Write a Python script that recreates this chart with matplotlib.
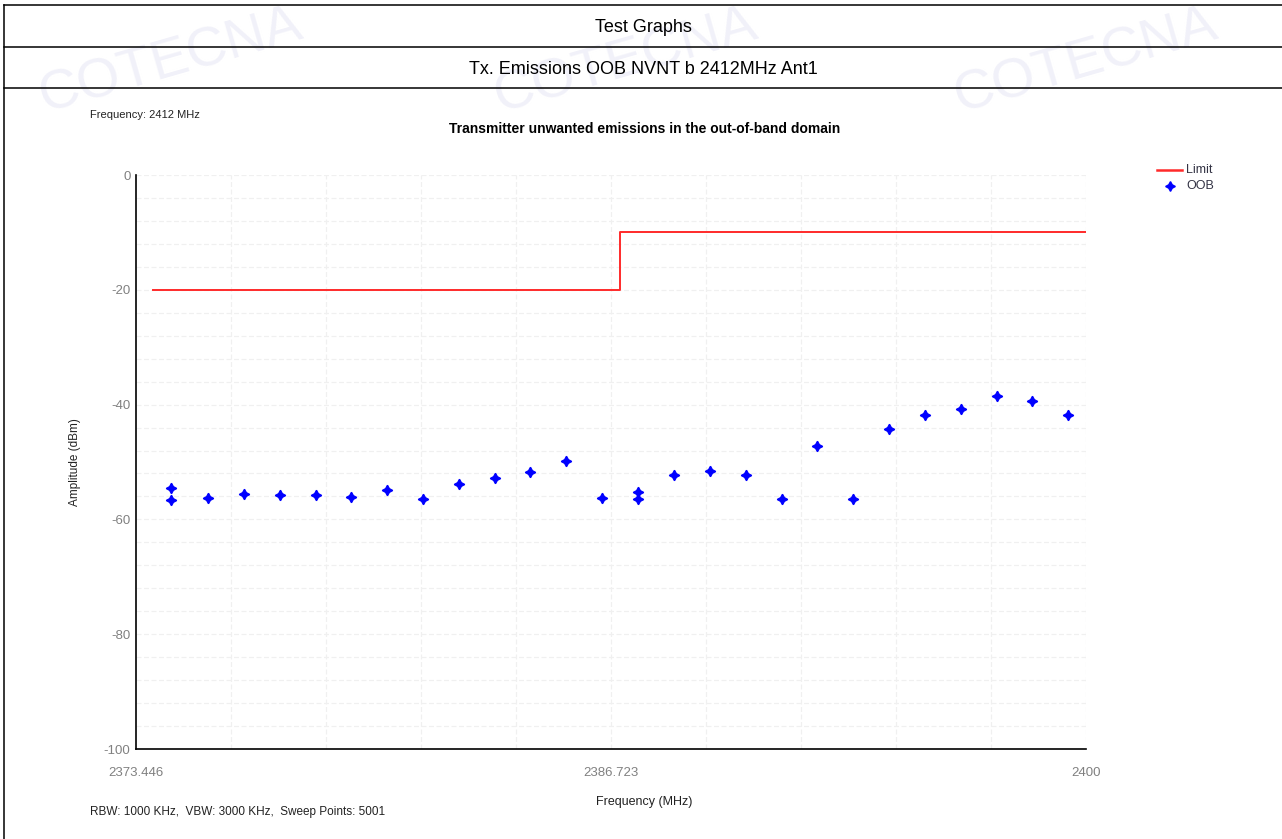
import matplotlib
matplotlib.use("Agg")
import matplotlib.pyplot as plt
from matplotlib.lines import Line2D
import numpy as np

# ---- data -------------------------------------------------------------
limit_freq = [2373.92, 2386.97, 2386.97, 2400.0]
limit_level = [-20, -20, -10, -10]

oob_freq = [2374.424, 2374.424, 2375.450, 2376.456, 2377.463, 2378.469,
            2379.456, 2380.454, 2381.460, 2382.466, 2383.472, 2384.467,
            2385.465, 2386.463, 2387.469, 2387.469, 2388.492, 2389.499,
            2390.497, 2391.495, 2392.490, 2393.496, 2394.502, 2395.509,
            2396.506, 2397.504, 2398.499, 2399.505]
oob_level = [-54.58, -56.62, -56.32, -55.57, -55.75, -55.75,
             -56.10, -54.88, -56.50, -53.78, -52.79, -51.79,
             -49.88, -56.27, -55.28, -56.45, -52.21, -51.52,
             -52.21, -56.50, -47.16, -56.50, -44.22, -41.76,
             -40.77, -38.45, -39.37, -41.86]

x_ticks = [2373.446, 2386.723, 2400.0]
x_ticklabels = ["2373.446", "2386.723", "2400"]
y_ticks = [0, -20, -40, -60, -80, -100]

# ---- figure -----------------------------------------------------------
W, H = 1282, 839
fig = plt.figure(figsize=(W / 100, H / 100), dpi=100)
fig.patch.set_facecolor("white")

SANS = ["Liberation Sans", "DejaVu Sans"]


def fx(px):
    return px / W


def fy(py):
    return 1 - py / H


# faint company watermark behind the header
wm_color = "#f1f1f9"
for (px, py) in [(170, 62), (625, 62), (1085, 62)]:
    fig.text(fx(px), fy(py), "COTECNA", fontsize=40, color=wm_color,
             rotation=16, ha="center", va="center", family=SANS,
             zorder=0)

# report header table
for py in (5, 47, 88):
    fig.add_artist(Line2D([fx(4), 1.0], [fy(py), fy(py)], color="black",
                          lw=1.1, transform=fig.transFigure))
fig.add_artist(Line2D([fx(4), fx(4)], [fy(5), 0.0], color="black",
                      lw=1.1, transform=fig.transFigure))
fig.text(fx(643), fy(27), "Test Graphs", ha="center", va="center",
         fontsize=13, family=SANS, color="black")
fig.text(fx(643), fy(69), "Tx. Emissions OOB NVNT b 2412MHz Ant1",
         ha="center", va="center", fontsize=13, family=SANS, color="black")

# ---- plot area --------------------------------------------------------
left, right, top, bottom = 136, 1086, 175, 749
ax = fig.add_axes([fx(left), fy(bottom), fx(right - left),
                   (bottom - top) / H])
ax.set_facecolor("white")
ax.set_xlim(2373.446, 2400.0)
ax.set_ylim(-100, 0)

# light grid: 10 vertical divisions, 4 dB horizontal steps
for gx in np.linspace(2373.446, 2400.0, 11)[1:]:
    ax.axvline(gx, color="#f0f0f0", lw=0.9, ls=(0, (4, 2)), zorder=1)
for gy in np.arange(-96, 1, 4):
    ax.axhline(gy, color="#f0f0f0", lw=0.9, ls=(0, (4, 2)), zorder=1)

ax.plot(limit_freq, limit_level, color="#ff2a2a", lw=1.4, zorder=3,
        label="Limit")
ax.plot(oob_freq, oob_level, ls="none", marker=(4, 1, 0), ms=7.5,
        color="#0000ff", mec="#0000ff", zorder=4, label="OOB")

for s in ("top", "right"):
    ax.spines[s].set_visible(False)
ax.spines["left"].set_color("black")
ax.spines["bottom"].set_color("black")
ax.spines["left"].set_linewidth(1.2)
ax.spines["bottom"].set_linewidth(1.2)

ax.set_xticks(x_ticks)
ax.set_xticklabels(x_ticklabels)
ax.set_yticks(y_ticks)
ax.set_yticklabels([str(v) for v in y_ticks])
ax.tick_params(axis="both", length=0, labelsize=9.5, labelcolor="#808080")
ax.tick_params(axis="x", pad=13)
ax.tick_params(axis="y", pad=4)
for lab in ax.get_xticklabels() + ax.get_yticklabels():
    lab.set_family(SANS)

# ---- annotations ------------------------------------------------------
fig.text(fx(90), fy(115), "Frequency: 2412 MHz", ha="left", va="center",
         fontsize=8, family=SANS, color="#222222")
fig.text(fx(645), fy(129),
         "Transmitter unwanted emissions in the out-of-band domain",
         ha="center", va="center", fontsize=10, fontweight="bold",
         family=SANS, color="black")
fig.text(fx(75), fy(462), "Amplitude (dBm)", ha="center", va="center",
         rotation=90, fontsize=8.5, family=SANS, color="#222222")
fig.text(fx(644), fy(802), "Frequency (MHz)", ha="center", va="center",
         fontsize=9, family=SANS, color="#222222")
fig.text(fx(90), fy(812), "RBW: 1000 KHz,  VBW: 3000 KHz,  Sweep Points: 5001",
         ha="left", va="center", fontsize=8.5, family=SANS, color="#222222")

# legend drawn in figure space at the upper right
fig.add_artist(Line2D([fx(1157), fx(1182)], [fy(170), fy(170)],
                      color="#ff2a2a", lw=1.8, transform=fig.transFigure))
fig.add_artist(Line2D([fx(1170)], [fy(186)], ls="none", marker=(4, 1, 0),
                      ms=7, color="#0000ff", transform=fig.transFigure))
fig.text(fx(1186), fy(170), "Limit", ha="left", va="center", fontsize=9,
         family=SANS, color="#333344")
fig.text(fx(1186), fy(186), "OOB", ha="left", va="center", fontsize=9,
         family=SANS, color="#333344")

fig.savefig("out.png", dpi=100, facecolor="white")
